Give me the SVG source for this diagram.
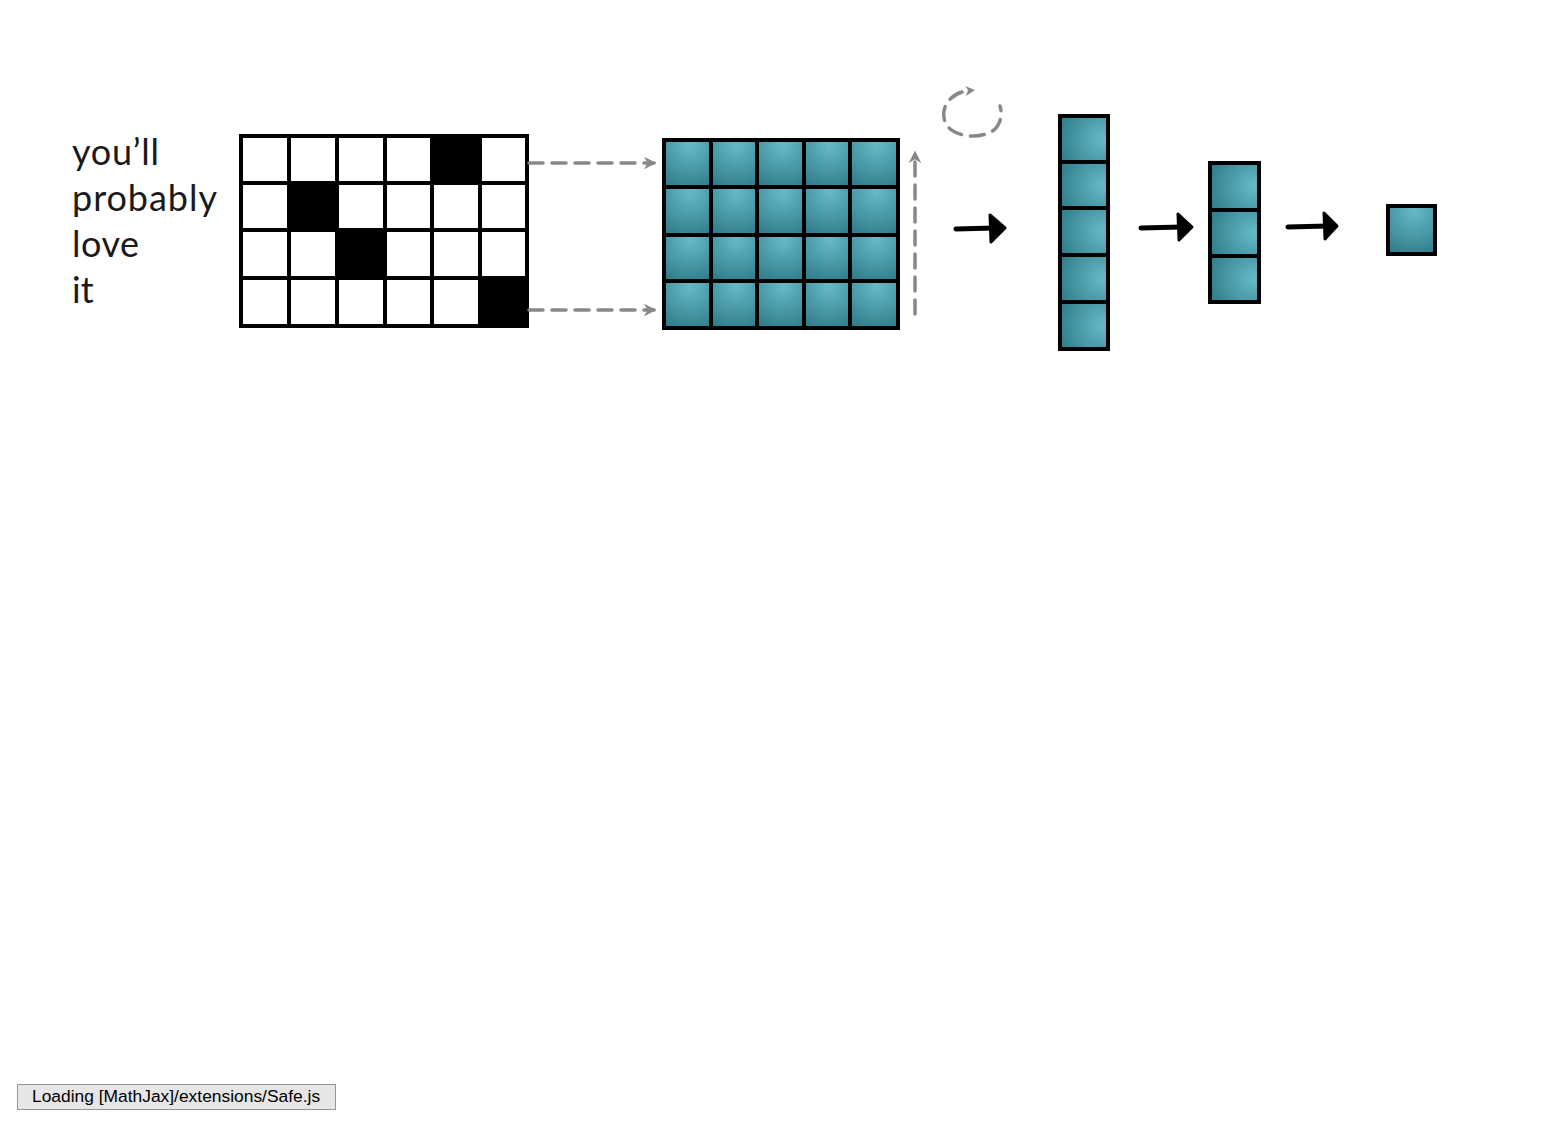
<svg xmlns="http://www.w3.org/2000/svg" width="1561" height="1138" viewBox="0 0 1561 1138">
<defs>
<radialGradient id="tg" cx="0.55" cy="0.1" r="1" fx="0.55" fy="0.1">
<stop offset="0" stop-color="#66bac8"/>
<stop offset="1" stop-color="#2e7b88"/>
</radialGradient>
<radialGradient id="tgr" cx="0.9" cy="0.5" r="1" fx="0.9" fy="0.5">
<stop offset="0" stop-color="#66bac8"/>
<stop offset="1" stop-color="#2e7b88"/>
</radialGradient>
<marker id="gh" viewBox="0 0 10 10" refX="8" refY="5" markerWidth="3.6" markerHeight="3.6" orient="auto">
<path d="M0,0 L10,5 L0,10 L3,5 z" fill="#888"/>
</marker>
</defs>
<style>
.w{fill:#fff;stroke:#000;stroke-width:4}
.b{fill:#000;stroke:#000;stroke-width:4}
.t{fill:url(#tg);stroke:#000;stroke-width:4}
.tr{fill:url(#tgr);stroke:#000;stroke-width:4}
.lbl{font-family:Lato,"Liberation Sans",sans-serif;font-size:36px;font-weight:400;fill:#1a1a1a}
.d{fill:none;stroke:#888;stroke-width:3.5;stroke-dasharray:14 9;stroke-linecap:round}
.ar{fill:none;stroke:#000;stroke-width:5;stroke-linecap:round}
</style>
<g id="words">
<text class="lbl" x="72" y="165" textLength="87">you’ll</text>
<text class="lbl" x="72" y="211" textLength="145">probably</text>
<text class="lbl" x="72" y="257" textLength="67">love</text>
<text class="lbl" x="72" y="303">it</text>
</g>
<g id="onehot">
<rect class="w" x="241" y="136" width="48" height="47"/>
<rect class="w" x="289" y="136" width="48" height="47"/>
<rect class="w" x="337" y="136" width="48" height="47"/>
<rect class="w" x="385" y="136" width="47" height="47"/>
<rect class="b" x="432" y="136" width="48" height="47"/>
<rect class="w" x="480" y="136" width="47" height="47"/>
<rect class="w" x="241" y="183" width="48" height="47"/>
<rect class="b" x="289" y="183" width="48" height="47"/>
<rect class="w" x="337" y="183" width="48" height="47"/>
<rect class="w" x="385" y="183" width="47" height="47"/>
<rect class="w" x="432" y="183" width="48" height="47"/>
<rect class="w" x="480" y="183" width="47" height="47"/>
<rect class="w" x="241" y="230" width="48" height="48"/>
<rect class="w" x="289" y="230" width="48" height="48"/>
<rect class="b" x="337" y="230" width="48" height="48"/>
<rect class="w" x="385" y="230" width="47" height="48"/>
<rect class="w" x="432" y="230" width="48" height="48"/>
<rect class="w" x="480" y="230" width="47" height="48"/>
<rect class="w" x="241" y="278" width="48" height="48"/>
<rect class="w" x="289" y="278" width="48" height="48"/>
<rect class="w" x="337" y="278" width="48" height="48"/>
<rect class="w" x="385" y="278" width="47" height="48"/>
<rect class="w" x="432" y="278" width="48" height="48"/>
<rect class="b" x="480" y="278" width="47" height="48"/>
</g>
<g id="embedding">
<rect class="t" x="664" y="140" width="47" height="47"/>
<rect class="t" x="711" y="140" width="46" height="47"/>
<rect class="t" x="757" y="140" width="47" height="47"/>
<rect class="t" x="804" y="140" width="46" height="47"/>
<rect class="t" x="850" y="140" width="48" height="47"/>
<rect class="t" x="664" y="187" width="47" height="48"/>
<rect class="t" x="711" y="187" width="46" height="48"/>
<rect class="t" x="757" y="187" width="47" height="48"/>
<rect class="t" x="804" y="187" width="46" height="48"/>
<rect class="t" x="850" y="187" width="48" height="48"/>
<rect class="t" x="664" y="235" width="47" height="46"/>
<rect class="t" x="711" y="235" width="46" height="46"/>
<rect class="t" x="757" y="235" width="47" height="46"/>
<rect class="t" x="804" y="235" width="46" height="46"/>
<rect class="t" x="850" y="235" width="48" height="46"/>
<rect class="t" x="664" y="281" width="47" height="47"/>
<rect class="t" x="711" y="281" width="46" height="47"/>
<rect class="t" x="757" y="281" width="47" height="47"/>
<rect class="t" x="804" y="281" width="46" height="47"/>
<rect class="t" x="850" y="281" width="48" height="47"/>
</g>
<g id="hidden5">
<rect class="tr" x="1060" y="116" width="48" height="46"/>
<rect class="tr" x="1060" y="162" width="48" height="46"/>
<rect class="tr" x="1060" y="208" width="48" height="47"/>
<rect class="tr" x="1060" y="255" width="48" height="47"/>
<rect class="tr" x="1060" y="302" width="48" height="47"/>
</g>
<g id="hidden3">
<rect class="tr" x="1210" y="163" width="49" height="47"/>
<rect class="tr" x="1210" y="210" width="49" height="46"/>
<rect class="tr" x="1210" y="256" width="49" height="46"/>
</g>
<g id="output">
<rect class="t" x="1388" y="206" width="47" height="48"/>
</g>
<g id="connectors">
<line class="d" x1="529" y1="163" x2="654" y2="163" marker-end="url(#gh)"/>
<line class="d" x1="529" y1="310" x2="654" y2="310" marker-end="url(#gh)"/>
<line class="d" x1="915" y1="314" x2="915" y2="153" marker-end="url(#gh)"/>
<path class="d" d="M962,92 C946,97 940,112 946,124 C953,137 980,140 994,130 C1002,123 1002,112 1000,106" />
<path d="M965,86 L975,90 L966,96 L968,90 z" fill="#888"/>
<line class="ar" x1="956" y1="229" x2="995" y2="228"/>
<path d="M990,215 L1005,228 L991,242 z" fill="#000" stroke="#000" stroke-width="3" stroke-linejoin="round"/>
<line class="ar" x1="1141" y1="228" x2="1182" y2="227"/>
<path d="M1178,214 L1192,227 L1179,240 z" fill="#000" stroke="#000" stroke-width="3" stroke-linejoin="round"/>
<line class="ar" x1="1288" y1="227" x2="1328" y2="226"/>
<path d="M1324,213 L1337,226 L1325,239 z" fill="#000" stroke="#000" stroke-width="3" stroke-linejoin="round"/>
</g>
<g id="mathjax">
<rect x="17.5" y="1084.5" width="318" height="25" fill="#e6e6e6" stroke="#959595" stroke-width="1"/>
<text x="32" y="1102" font-family="'Liberation Sans',Arial,sans-serif" font-size="17.4" fill="#000">Loading [MathJax]/extensions/Safe.js</text>
</g>
</svg>
